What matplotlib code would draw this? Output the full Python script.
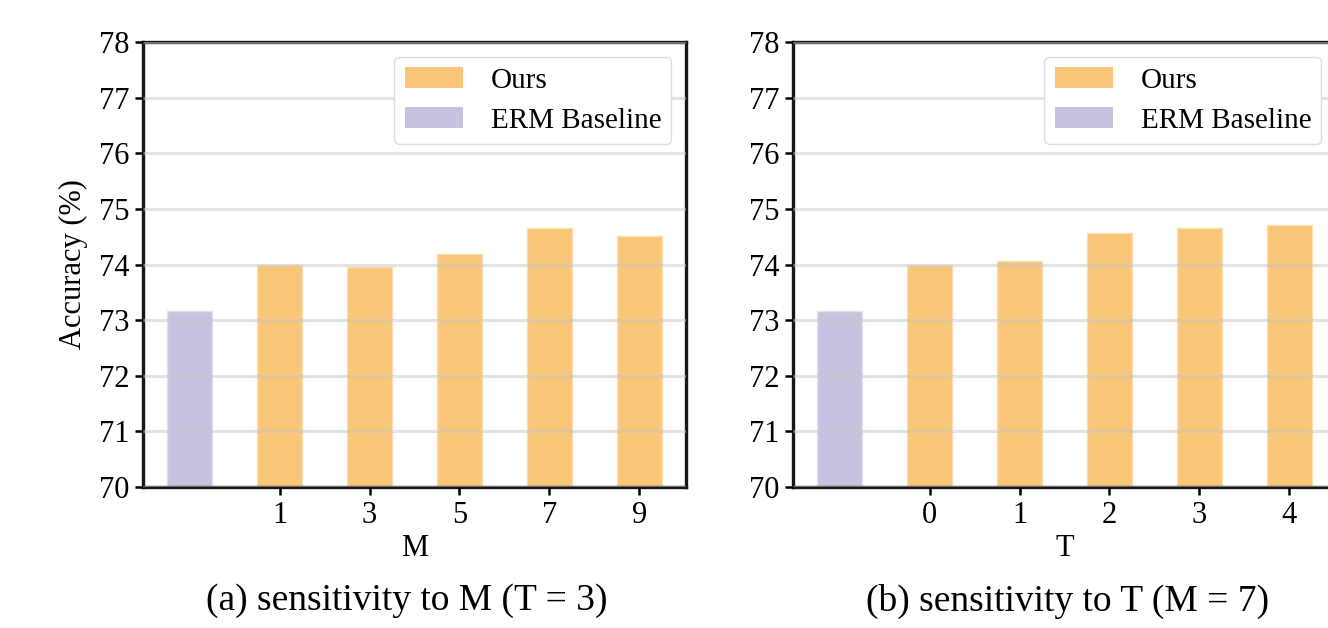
import matplotlib
matplotlib.use("Agg")
import matplotlib.pyplot as plt
from matplotlib.patches import Patch

plt.rcParams["font.family"] = ["Liberation Serif", "DejaVu Serif"]

# data
baseline_acc = 73.16
m_labels = ["1", "3", "5", "7", "9"]
m_acc = [74.00, 73.95, 74.18, 74.65, 74.52]
t_labels = ["0", "1", "2", "3", "4"]
t_acc = [74.00, 74.07, 74.56, 74.65, 74.71]

ORANGE = "#f9c577"
PURPLE = "#c9c1e0"

fig = plt.figure(figsize=(13.28, 6.28), dpi=100)
ax_m = fig.add_axes([143 / 1328, 1 - 487 / 628, 543 / 1328, 445 / 628])
ax_t = fig.add_axes([793 / 1328, 1 - 487 / 628, 543 / 1328, 445 / 628])


def draw(ax, labels, acc, xlabel, ylabel=None):
    xs = list(range(1, len(acc) + 1))
    ax.bar([0], [baseline_acc], width=0.5, color=PURPLE,
           edgecolor="#e4e0f0", linewidth=1.0, zorder=1)
    ax.bar(xs, acc, width=0.5, color=ORANGE,
           edgecolor="#fce0b4", linewidth=1.0, zorder=1)
    ax.set_ylim(70, 78)
    ax.set_xlim(-0.52, 5.52)
    ax.set_yticks(range(70, 79))
    ax.set_xticks(xs)
    ax.set_xticklabels(labels)
    ax.yaxis.grid(True, color="#c8c8c8", alpha=0.5, lw=2.2, zorder=2)
    ax.set_axisbelow(False)
    ax.tick_params(labelsize=22, width=1.8, length=6, direction="out",
                   pad=4)
    for s in ax.spines.values():
        s.set_linewidth(2.4)
        s.set_color("#1a1515")
    ax.set_xlabel(xlabel, fontsize=22, labelpad=3)
    if ylabel:
        ax.set_ylabel(ylabel, fontsize=22, labelpad=8)
    handles = [Patch(facecolor=ORANGE, label="Ours"),
               Patch(facecolor=PURPLE, label="ERM Baseline")]
    ax.legend(handles=handles, loc="upper right", fontsize=21,
              handlelength=2.0, handleheight=0.75, handletextpad=0.95,
              labelspacing=0.45, borderaxespad=0.5, borderpad=0.35,
              framealpha=1, edgecolor="#dddddd", fancybox=True)


draw(ax_m, m_labels, m_acc, "M", "Accuracy (%)")
draw(ax_t, t_labels, t_acc, "T")

fig.text(407 / 1328, 1 - 601 / 628, "(a) sensitivity to M (T = 3)",
         ha="center", va="center", fontsize=27)
fig.text(1068 / 1328, 1 - 601 / 628, "(b) sensitivity to T (M = 7)",
         ha="center", va="center", fontsize=27)

fig.savefig("out.png", dpi=100)
